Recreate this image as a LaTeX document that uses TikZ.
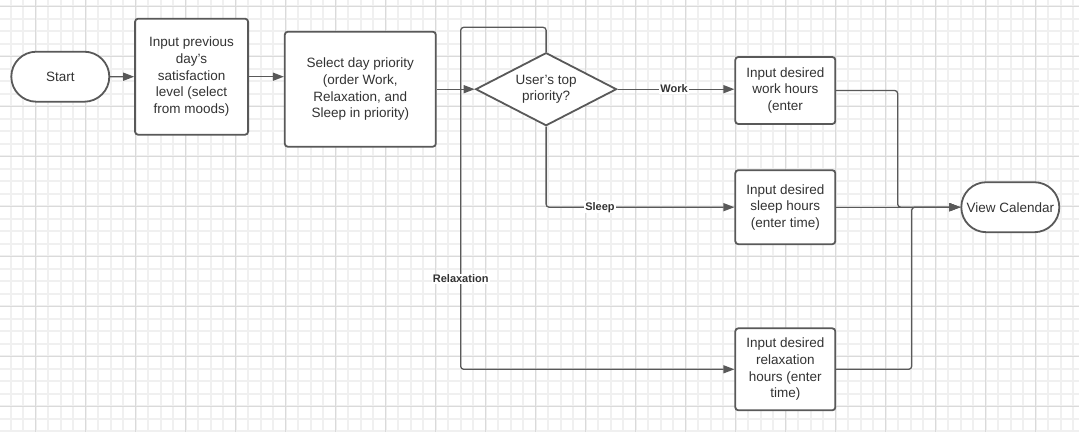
\documentclass[tikz,border=0pt]{standalone}
\usepackage{fontspec}
\setmainfont{Liberation Sans}
\usepackage{tikz}
\usetikzlibrary{shapes.geometric, shapes.misc, arrows.meta, positioning, calc}

\definecolor{gridminor}{HTML}{F0F0F0}
\definecolor{gridmajor}{HTML}{DADADA}
\definecolor{edge}{HTML}{595959}
\definecolor{ink}{HTML}{333333}

\begin{document}
\begin{tikzpicture}[
    x=1pt, y=-1pt,
    every node/.style={font=\fontsize{13.5}{16.7}\selectfont, text=ink},
    term/.style={rounded rectangle, draw=edge, line width=1.8pt, fill=white, minimum width=100pt, minimum height=50pt, inner sep=1pt},
    proc/.style={rectangle, rounded corners=3pt, draw=edge, line width=1.8pt, fill=white, align=center, inner sep=2pt},
    choice/.style={diamond, draw=edge, line width=1.8pt, fill=white, align=center, aspect=1.93, inner sep=0pt, minimum width=141pt, minimum height=73pt},
    link/.style={draw=edge, line width=1.3pt, rounded corners=3pt},
    arrow/.style={link, -{Triangle[length=11pt, width=8pt]}},
    lbl/.style={font=\fontsize{11}{13}\selectfont\bfseries, text=ink, fill=white, inner sep=1pt}
]
\useasboundingbox (0,0) rectangle (1079,432);

% --- Background grid ---
\fill[white] (0,0) rectangle (1079,432);
\foreach \gx in {-1.8, 10.7, ..., 1085} \draw[gridminor, line width=2pt] (\gx,0) -- (\gx,432);
\foreach \gy in {-6.5, 6, ..., 440} \draw[gridminor, line width=2pt] (0,\gy) -- (1079,\gy);
\foreach \gx in {35.7, 85.7, ..., 1085} \draw[gridmajor, line width=0.9pt] (\gx,0) -- (\gx,432);
\foreach \gy in {6, 56, ..., 440} \draw[gridmajor, line width=0.9pt] (0,\gy) -- (1079,\gy);

% --- Top row : start -> satisfaction -> priority -> decision ---
\node[term] (start) at (60.3,76.7) {Start};
\node[proc, right=24pt of start, minimum width=113pt, minimum height=116pt] (satisf) {Input previous\\day's\\satisfaction\\level (select\\from moods)};
\node[proc, minimum width=151pt, minimum height=115pt] (priority) at (360.3,89.2) {Select day priority\\(order Work,\\Relaxation, and\\Sleep in priority)};
\node[choice, right=38pt of priority] (decide) {User's top\\priority?};

% --- Right column : hours inputs -> calendar ---
\node[proc, minimum width=100pt, minimum height=67pt] (workin) at (785.3,90.5) {Input desired\\work hours\\(enter};
\node[proc, minimum width=100pt, minimum height=74pt] (sleepin) at (785.3,207.2) {Input desired\\sleep hours\\(enter time)};
\node[proc, minimum width=100pt, minimum height=82pt] (relaxin) at (785.3,369.3) {Input desired\\relaxation\\hours (enter\\time)};
\node[term] (calendar) at (1010.3,207.2) {View Calendar};

\coordinate (looptop) at (460.7,27.3);
\coordinate (mergeA) at (897.7,207.2);
\coordinate (mergeB) at (911.7,207.2);

\draw[arrow] (start) -- (satisf);
\draw[arrow] (satisf.east) -- (satisf.east -| priority.west);
\draw[arrow] (priority) -- (decide);

% --- Branches ---
\draw[arrow] (decide.east) -- (decide.east -| workin.west);
\draw[arrow] (decide.south) |- (sleepin.west);
\draw[arrow] (decide.north) |- (looptop) |- (relaxin.west);

\draw[arrow] (workin.east) -| (mergeA) -- (calendar.west);
\draw[arrow] (sleepin.east) -- (calendar.west);
\draw[arrow] (relaxin.east) -| (mergeB) -- (calendar.west);

% --- Branch labels ---
\node[lbl] (worklbl) at (674,89) {Work};
\node[lbl] (sleeplbl) at (600,207.2) {Sleep};
\node[lbl] (relaxlbl) at (460.7,279) {Relaxation};
\end{tikzpicture}
\end{document}
